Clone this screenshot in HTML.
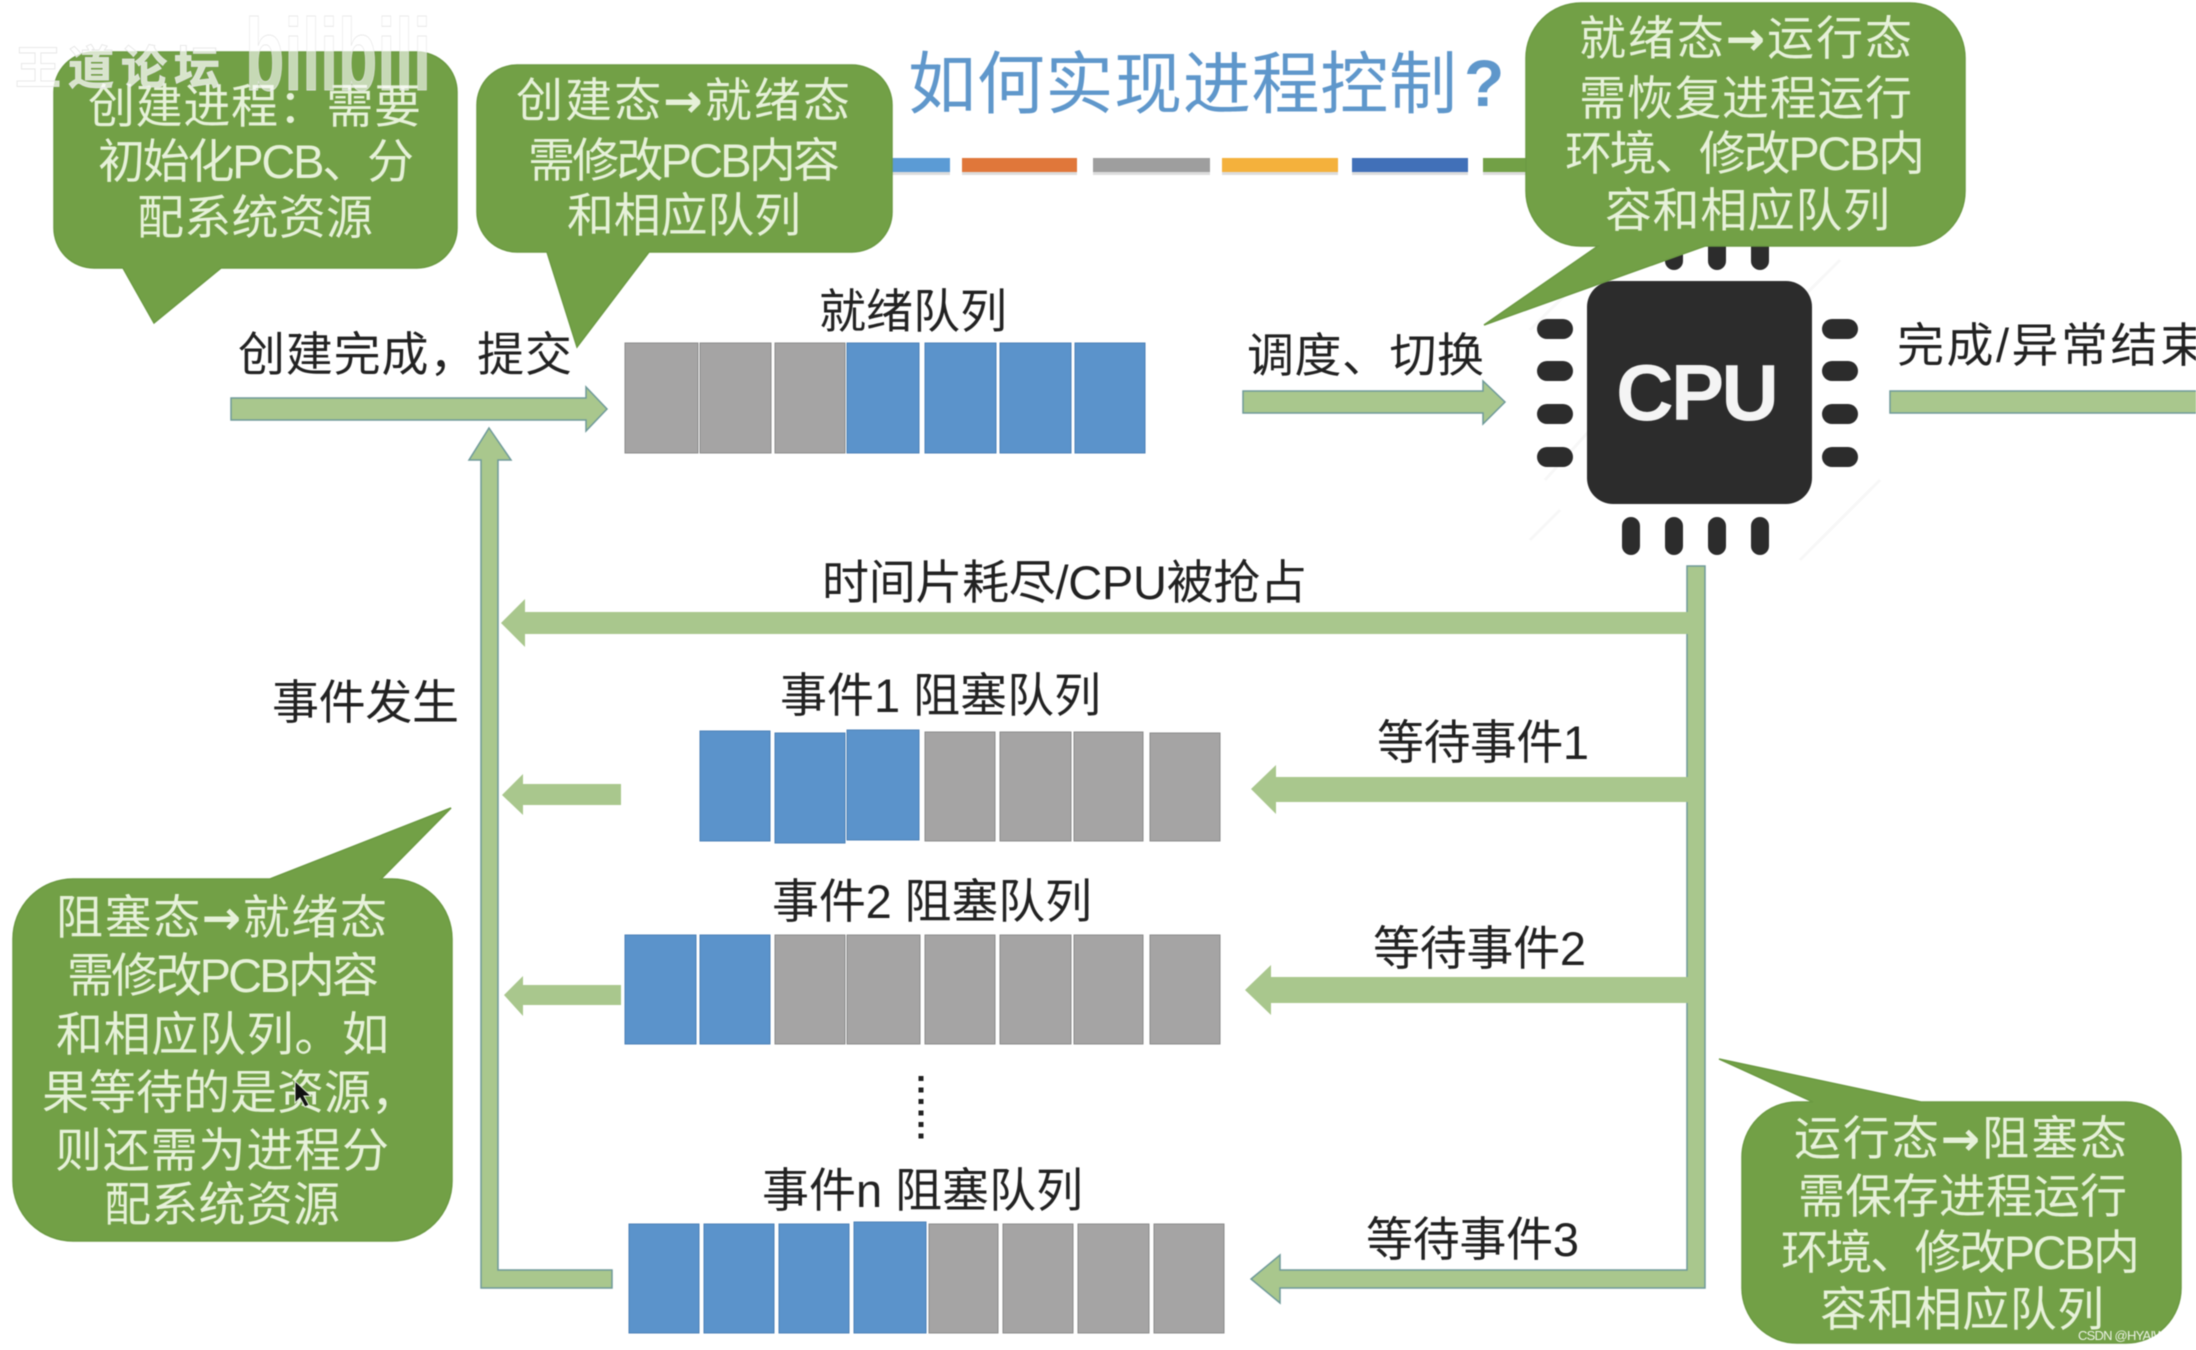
<!DOCTYPE html>
<html lang="zh">
<head>
<meta charset="utf-8">
<title>如何实现进程控制?</title>
<style>
html,body{margin:0;padding:0;background:#fff;width:2196px;height:1350px;overflow:hidden}
svg{display:block;filter:blur(.55px)}
text{font-family:"Liberation Sans","Noto Sans CJK SC",sans-serif;font-size:47px}
.k{fill:#222}
.w{fill:#e6f1d9}
.q rect.g{fill:#a5a4a4;stroke:#8b8b8b;stroke-width:1}
.q rect.b{fill:#5b93cb;stroke:#4a80b6;stroke-width:1}
.a{fill:#a9c78d;stroke:#6f9a9a;stroke-width:1.5}
.n{fill:#a9c78d}
.bub{fill:#72a046;stroke:#6b9a42;stroke-width:1.5}
.pin{fill:#2c2c2c}
</style>
</head>
<body>
<svg width="2196" height="1350" viewBox="0 0 2196 1350" xmlns="http://www.w3.org/2000/svg">
<rect width="2196" height="1350" fill="#fff"/>

<!-- title -->
<text x="908" y="108" fill="#5f97cb" style="font-size:68px" textLength="549">如何实现进程控制</text>
<text x="1464" y="106" fill="#5f97cb" style="font-size:66px" font-weight="700">?</text>

<!-- title dashes -->
<g fill="#dcdcdc">
<rect x="890" y="167" width="60" height="8"/><rect x="962" y="167" width="115" height="8"/><rect x="1093" y="167" width="117" height="8"/><rect x="1222" y="167" width="116" height="8"/><rect x="1352" y="167" width="116" height="8"/><rect x="1483" y="167" width="60" height="8"/>
</g>
<rect x="890" y="158" width="60" height="14" fill="#5b9bd5"/>
<rect x="962" y="158" width="115" height="14" fill="#e0773a"/>
<rect x="1093" y="158" width="117" height="14" fill="#9e9e9e"/>
<rect x="1222" y="158" width="116" height="14" fill="#f4b13c"/>
<rect x="1352" y="158" width="116" height="14" fill="#4170b8"/>
<rect x="1483" y="158" width="60" height="14" fill="#72a046"/>

<!-- CPU -->
<g stroke="#f7f7f7" stroke-width="3" fill="none">
<path d="M1530 330 L1620 240M1530 540 L1560 510M1800 560 L1880 480M1840 260 L1770 330M1545 480 L1590 430"/>
</g>
<g class="pin">
<rect x="1537" y="319" width="36" height="20" rx="10"/><rect x="1537" y="361" width="36" height="20" rx="10"/><rect x="1537" y="404" width="36" height="20" rx="10"/><rect x="1537" y="447" width="36" height="20" rx="10"/>
<rect x="1822" y="319" width="36" height="20" rx="10"/><rect x="1822" y="361" width="36" height="20" rx="10"/><rect x="1822" y="404" width="36" height="20" rx="10"/><rect x="1822" y="447" width="36" height="20" rx="10"/>
<rect x="1622" y="517" width="18" height="38" rx="9"/><rect x="1665" y="517" width="18" height="38" rx="9"/><rect x="1708" y="517" width="18" height="38" rx="9"/><rect x="1751" y="517" width="18" height="38" rx="9"/>
<rect x="1622" y="232" width="18" height="38" rx="9"/><rect x="1665" y="232" width="18" height="38" rx="9"/><rect x="1708" y="232" width="18" height="38" rx="9"/><rect x="1751" y="232" width="18" height="38" rx="9"/>
<rect x="1587" y="281" width="225" height="223" rx="26"/>
</g>
<text x="1616" y="420" fill="#f4f4f4" font-weight="700" style="font-size:80px" textLength="163">CPU</text>

<!-- queues -->
<g class="q">
<rect class="g" x="625" y="343" width="73" height="110"/><rect class="g" x="700" y="343" width="71" height="110"/><rect class="g" x="775" y="343" width="70" height="110"/>
<rect class="b" x="847" y="343" width="72" height="110"/><rect class="b" x="925" y="343" width="71" height="110"/><rect class="b" x="1000" y="343" width="71" height="110"/><rect class="b" x="1075" y="343" width="70" height="110"/>

<rect class="b" x="700" y="731" width="70" height="110"/><rect class="b" x="775" y="733" width="70" height="110"/><rect class="b" x="847" y="730" width="72" height="110"/>
<rect class="g" x="925" y="732" width="70" height="109"/><rect class="g" x="1000" y="732" width="71" height="109"/><rect class="g" x="1074" y="732" width="69" height="109"/><rect class="g" x="1150" y="733" width="70" height="108"/>

<rect class="b" x="625" y="935" width="71" height="109"/><rect class="b" x="700" y="935" width="70" height="109"/>
<rect class="g" x="775" y="935" width="70" height="109"/><rect class="g" x="847" y="935" width="73" height="109"/><rect class="g" x="925" y="935" width="70" height="109"/><rect class="g" x="1000" y="935" width="71" height="109"/><rect class="g" x="1074" y="935" width="69" height="109"/><rect class="g" x="1150" y="935" width="70" height="109"/>

<rect class="b" x="629" y="1224" width="70" height="109"/><rect class="b" x="704" y="1224" width="70" height="109"/><rect class="b" x="779" y="1224" width="70" height="109"/><rect class="b" x="854" y="1222" width="72" height="111"/>
<rect class="g" x="929" y="1224" width="69" height="109"/><rect class="g" x="1003" y="1224" width="70" height="109"/><rect class="g" x="1078" y="1224" width="71" height="109"/><rect class="g" x="1154" y="1224" width="70" height="109"/>
</g>

<!-- arrows -->
<path class="a" d="M231 398 H586 V387 L607 409 L586 431 V420 H231Z"/>
<path class="a" d="M1243 391 H1483 V381 L1505 402 L1483 424 V413 H1243Z"/>
<rect class="a" x="1890" y="391" width="310" height="22"/>
<path class="a" d="M489 428 L511 460 H498 V1270 H612 V1288 H481 V460 H469Z"/>
<path class="a" d="M1705 566 V1288 H1280 V1303 L1251 1279 L1280 1255 V1270 H1687 V566Z"/>
<path class="n" d="M501 623 L525 599 V612 H1695 V634 H525 V647Z"/>
<path class="n" d="M1251 789 L1276 765 V777 H1695 V802 H1276 V814Z"/>
<path class="n" d="M1245 990 L1271 965 V977 H1695 V1003 H1271 V1015Z"/>
<path class="n" d="M502 795 L523 774 V784 H621 V805 H523 V815Z"/>
<path class="n" d="M504 995 L523 976 V985 H621 V1005 H523 V1016Z"/>

<!-- dots -->
<line x1="921" y1="1076" x2="921" y2="1143" stroke="#222" stroke-width="5" stroke-dasharray="5 6.5"/>

<!-- labels -->
<text class="k" x="238" y="371" textLength="334">创建完成&#xFF0C;提交</text>
<text class="k" x="819" y="328" textLength="188">就绪队列</text>
<text class="k" x="1247" y="372" textLength="237">调度、切换</text>
<text class="k" x="1897" y="362" textLength="310">完成/异常结束</text>
<text class="k" x="822" y="599" textLength="485">时间片耗尽/CPU被抢占</text>
<text class="k" x="272" y="719" textLength="187">事件发生</text>
<text class="k" x="780" y="712" textLength="321">事件1 阻塞队列</text>
<text class="k" x="772" y="918" textLength="320">事件2 阻塞队列</text>
<text class="k" x="762" y="1207" textLength="321">事件n 阻塞队列</text>
<text class="k" x="1377" y="759" textLength="212">等待事件1</text>
<text class="k" x="1373" y="965" textLength="213">等待事件2</text>
<text class="k" x="1366" y="1256" textLength="213">等待事件3</text>

<!-- bubbles -->
<path class="bub" d="M94 52 H417 A40 40 0 0 1 457 92 V228 A40 40 0 0 1 417 268 H221 L154 323 L123 268 H94 A40 40 0 0 1 54 228 V92 A40 40 0 0 1 94 52Z"/>
<path class="bub" d="M517 65 H852 A40 40 0 0 1 892 105 V212 A40 40 0 0 1 852 252 H649 L577 347 L547 252 H517 A40 40 0 0 1 477 212 V105 A40 40 0 0 1 517 65Z"/>
<path class="bub" d="M1581 3 H1910 A55 55 0 0 1 1965 58 V191 A55 55 0 0 1 1910 246 H1705 L1484 325 L1598 246 H1581 A55 55 0 0 1 1526 191 V58 A55 55 0 0 1 1581 3Z"/>
<path class="bub" d="M73 879 H270 L451 808 L381 879 H392 A60 60 0 0 1 452 939 V1181 A60 60 0 0 1 392 1241 H73 A60 60 0 0 1 13 1181 V939 A60 60 0 0 1 73 879Z"/>
<path class="bub" d="M1797 1102 H1813 L1719 1059 L1921 1102 H2126 A55 55 0 0 1 2181 1157 V1288 A55 55 0 0 1 2126 1343 H1797 A55 55 0 0 1 1742 1288 V1157 A55 55 0 0 1 1797 1102Z"/>

<!-- bubble text -->
<text class="w" x="88" y="123" textLength="333">创建进程&#xFF1A;需要</text>
<text class="w" x="98" y="178" textLength="316">初始化PCB、分</text>
<text class="w" x="137" y="234" textLength="236">配系统资源</text>

<text class="w" x="516" y="117" textLength="334">创建态<tspan font-family="DejaVu Sans" font-weight="700">→</tspan>就绪态</text>
<text class="w" x="528" y="177" textLength="312">需修改PCB内容</text>
<text class="w" x="567" y="232" textLength="234">和相应队列</text>

<text class="w" x="1579" y="55" textLength="333">就绪态<tspan font-family="DejaVu Sans" font-weight="700">→</tspan>运行态</text>
<text class="w" x="1579" y="115" textLength="333">需恢复进程运行</text>
<text class="w" x="1565" y="170" textLength="360">环境、修改PCB内</text>
<text class="w" x="1605" y="227" textLength="285">容和相应队列</text>

<text class="w" x="56" y="934" textLength="331">阻塞态<tspan font-family="DejaVu Sans" font-weight="700">→</tspan>就绪态</text>
<text class="w" x="67" y="992" textLength="312">需修改PCB内容</text>
<text class="w" x="56" y="1051" textLength="333">和相应队列。如</text>
<text class="w" x="42" y="1109" textLength="376">果等待的是资源&#xFF0C;</text>
<text class="w" x="55" y="1167" textLength="334">则还需为进程分</text>
<text class="w" x="104" y="1221" textLength="236">配系统资源</text>

<text class="w" x="1794" y="1155" textLength="333">运行态<tspan font-family="DejaVu Sans" font-weight="700">→</tspan>阻塞态</text>
<text class="w" x="1798" y="1213" textLength="329">需保存进程运行</text>
<text class="w" x="1781" y="1269" textLength="359">环境、修改PCB内</text>
<text class="w" x="1820" y="1326" textLength="284">容和相应队列</text>

<!-- cursor -->
<path d="M295 1081 V1103 L300 1098 L305 1107 L309 1105 L304 1096 L311 1096Z" fill="#111" stroke="#dfe9d5" stroke-width="1"/>

<!-- watermarks -->
<text x="15" y="84" fill="#fff" fill-opacity=".72" stroke="#e4e4e4" stroke-width=".8" style="font-size:46px" font-weight="700" textLength="205">王道论坛</text>
<text x="245" y="90" fill="#fff" fill-opacity=".6" stroke="#e4e4e4" stroke-width=".8" font-weight="700" style="font-size:102px" textLength="186" lengthAdjust="spacingAndGlyphs">bilibili</text>
<text x="2078" y="1340" fill="#fff" fill-opacity=".85" style="font-size:13px" textLength="104">CSDN @HYAIWYH</text>
</svg>
</body>
</html>
